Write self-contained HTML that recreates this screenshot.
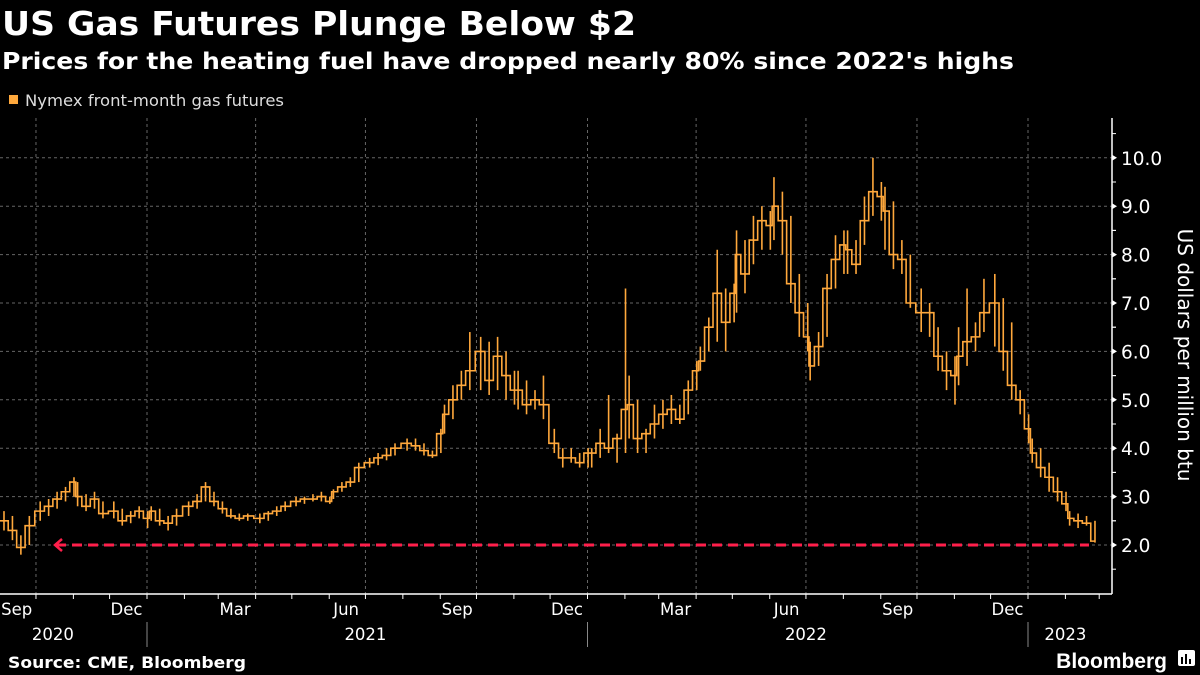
<!DOCTYPE html>
<html><head><meta charset="utf-8"><style>
html,body{margin:0;padding:0;background:#000;}
body{width:1200px;height:675px;overflow:hidden;font-family:"DejaVu Sans",sans-serif;color:#fff;position:relative}
</style></head><body>
<svg id="chart" width="1200" height="675" xmlns="http://www.w3.org/2000/svg" style="position:absolute;left:0;top:0">
<text x="2" y="35" font-size="33" font-weight="bold" fill="#fff" font-family="DejaVu Sans, sans-serif" textLength="634" lengthAdjust="spacingAndGlyphs">US Gas Futures Plunge Below $2</text>
<text x="2" y="69" font-size="23" font-weight="bold" fill="#fff" font-family="DejaVu Sans, sans-serif" textLength="1012" lengthAdjust="spacingAndGlyphs">Prices for the heating fuel have dropped nearly 80% since 2022's highs</text>
<g>
<rect x="9" y="95" width="9" height="9" fill="#ffa83c"/>
<text x="25" y="106" font-size="16" fill="#ddd" font-family="DejaVu Sans, sans-serif" textLength="259" lengthAdjust="spacingAndGlyphs">Nymex front-month gas futures</text>
</g>
<g id="grid"></g>
<g id="series"></g>
<g id="axes"></g>
<text transform="translate(1178,355) rotate(90)" text-anchor="middle" font-size="20" fill="#fff" font-family="DejaVu Sans, sans-serif">US dollars per million btu</text>
<text x="8" y="668" font-size="16" font-weight="bold" fill="#fff" font-family="DejaVu Sans, sans-serif" textLength="238" lengthAdjust="spacingAndGlyphs">Source: CME, Bloomberg</text>
<text x="1167" y="668" text-anchor="end" font-size="21" font-weight="bold" fill="#fff" font-family="Liberation Sans, sans-serif">Bloomberg</text>
<g>
<rect x="1178" y="650" width="17" height="16" rx="2" fill="#fff"/>
<rect x="1181" y="657" width="2" height="7" fill="#000"/><rect x="1185" y="654" width="2" height="10" fill="#000"/><rect x="1189" y="659" width="2" height="5" fill="#000"/>
</g>
</svg>
<script>
const months = ["2020-09","2020-10","2020-11","2020-12","2021-01","2021-02","2021-03","2021-04","2021-05","2021-06","2021-07","2021-08","2021-09","2021-10","2021-11","2021-12","2022-01","2022-02","2022-03","2022-04","2022-05","2022-06","2022-07","2022-08","2022-09","2022-10","2022-11","2022-12","2023-01","2023-02"];
const closes = [[2.5,2.3,1.95,2.4],[2.7,2.8,2.95,3.1,3.3],[3.0,2.8,2.95,2.65],[2.7,2.5,2.6,2.7,2.55],[2.7,2.5,2.45,2.6],[2.8,2.9,3.2,2.9],[2.75,2.6,2.55,2.6],[2.55,2.65,2.7,2.8],[2.9,2.95,2.95,3.0,2.9],[3.1,3.2,3.3,3.6],[3.7,3.8,3.85,4.0],[4.1,4.05,3.95,3.85,4.3],[4.7,5.0,5.3,5.6],[6.0,5.4,5.9,5.5,5.2],[5.2,4.9,5.0,4.9],[4.1,3.8,3.8,3.7,3.9],[3.9,4.1,4.0,4.2,4.8],[4.9,4.2,4.3,4.5],[4.7,4.8,4.6,5.2,5.6],[5.8,6.5,7.2,6.6,7.2],[8.0,7.6,8.3,8.7,8.6],[9.0,8.7,7.4,6.8,6.3],[5.7,6.1,7.3,7.9,8.2],[8.1,7.8,8.7,9.3,9.2],[8.9,8.0,7.9,7.0],[6.8,6.8,5.9,5.6,5.5],[5.9,6.2,6.3,6.8],[7.0,6.0,5.3,5.0,4.4],[3.9,3.6,3.4,3.1,2.85],[2.55,2.5,2.45,2.08]];
const highs = [[2.7,2.6,2.2,2.6],[2.9,2.95,3.1,3.2,3.4],[3.3,3.05,3.1,2.9],[2.9,2.75,2.7,2.8,2.7],[2.8,2.75,2.6,2.75],[2.9,3.05,3.3,3.1],[2.9,2.75,2.65,2.65],[2.65,2.7,2.8,2.9],[3.0,3.0,3.05,3.1,3.0],[3.15,3.3,3.4,3.7],[3.8,3.9,4.0,4.1],[4.2,4.2,4.1,3.95,4.4],[4.9,5.3,5.6,6.4],[6.3,6.2,6.3,6.0,5.6],[5.6,5.4,5.2,5.5],[4.4,4.0,4.0,3.9,4.0],[4.0,4.4,5.1,4.3,7.3],[5.5,5.0,4.4,4.9],[5.0,5.1,4.9,5.4,5.8],[6.1,6.7,8.1,7.3,7.4],[8.5,8.3,8.8,9.0,8.9],[9.6,9.3,8.8,7.6,7.0],[6.2,6.4,7.6,8.4,8.5],[8.5,8.3,9.2,10.0,9.5],[9.4,9.1,8.3,8.0],[7.3,7.0,6.5,6.0,5.9],[6.5,7.3,6.6,7.5],[7.6,7.1,6.6,5.2,4.7],[4.2,4.0,3.7,3.4,3.1],[2.7,2.65,2.6,2.5]];
const lows = [[2.3,2.1,1.8,2.0],[2.5,2.6,2.75,2.9,3.0],[2.8,2.7,2.75,2.55],[2.55,2.4,2.45,2.55,2.35],[2.5,2.4,2.3,2.4],[2.6,2.75,2.9,2.8],[2.65,2.55,2.5,2.5],[2.45,2.5,2.6,2.7],[2.8,2.85,2.9,2.9,2.85],[2.95,3.1,3.2,3.3],[3.6,3.65,3.75,3.85],[3.95,3.95,3.85,3.8,3.9],[4.3,4.6,5.0,5.2],[5.2,5.1,5.2,5.0,4.9],[4.8,4.7,4.8,4.6],[3.9,3.6,3.7,3.6,3.6],[3.6,3.8,3.9,3.7,3.9],[4.2,3.9,3.9,4.2],[4.4,4.5,4.5,4.7,5.2],[5.6,6.0,6.2,6.0,6.6],[6.8,7.2,7.8,8.1,8.1],[8.3,8.0,7.0,6.3,6.0],[5.4,5.7,6.3,7.3,7.6],[7.6,7.6,8.2,8.8,8.7],[8.1,7.7,7.6,6.9],[6.4,6.3,5.6,5.2,4.9],[5.3,5.7,6.0,6.4],[6.1,5.6,5.0,4.7,4.1],[3.7,3.4,3.1,2.9,2.7],[2.4,2.35,2.4,2.05]];
const yTicks = [2,3,4,5,6,7,8,9,10];
const yTickLabels = ["2.0","3.0","4.0","5.0","6.0","7.0","8.0","9.0","10.0"];
const monthLabels = ["Sep","Dec","Mar","Jun","Sep","Dec","Mar","Jun","Sep","Dec"];
const monthLabelDates = ["2020-09-15","2020-12-15","2021-03-15","2021-06-15","2021-09-15","2021-12-15","2022-03-15","2022-06-15","2022-09-15","2022-12-15"];
const yearLabels = ["2020","2021","2022","2023"];
const yearLabelDates = ["2020-10-15","2021-07-01","2022-07-01","2023-02-01"];
const targetLevel = 2.0;

const NS="http://www.w3.org/2000/svg";
const DAY=86400000, T0=Date.UTC(2021,0,1), PX=(1028-147)/730;
function xScale(d){return 147+(d-T0)/DAY*PX;}
function dt(s){const p=s.split("-").map(Number);return Date.UTC(p[0],p[1]-1,p[2]||1);}
function yScale(v){return 545-(v-2)*48.4;}
function mk(tag,attrs,parent){const e=document.createElementNS(NS,tag);for(const k in attrs)e.setAttribute(k,attrs[k]);parent.appendChild(e);return e;}
const grid=document.getElementById("grid"),series=document.getElementById("series"),axes=document.getElementById("axes");
const AX=1112, AB=594, TOP=118;
const FONT="DejaVu Sans, sans-serif";

yTicks.forEach((v,i)=>{
  const l=mk("line",{x1:0,x2:AX,y1:yScale(v),y2:yScale(v),stroke:"#666","stroke-width":1,"stroke-dasharray":"3,3"},grid);
  
  
});
for(let y=2020;y<=2023;y++){for(const m of [0,3,6,9]){const t=Date.UTC(y,m,1);const x=xScale(t);if(x<0||x>AX-5)continue;
  const l=mk("line",{x1:x,x2:x,y1:TOP,y2:AB,stroke:"#666","stroke-width":1,"stroke-dasharray":"3,3"},grid);
  
  
}}

let pts=[];
months.forEach((m,i)=>{const ms=dt(m);closes[i].forEach((c,k)=>{const t=ms+(3.5+7*k)*DAY;pts.push({x:xScale(t),c:c,h:highs[i][k],l:lows[i][k]});});});
let d="";
pts.forEach((p,i)=>{
  const bar=mk("line",{x1:p.x,x2:p.x,y1:yScale(p.h),y2:yScale(p.l),stroke:"#ffa83c","stroke-width":1.6},series);
  
  
  const x0=i===0?0:(pts[i-1].x+p.x)/2;
  d+=(i===0?"M":"L")+x0+","+yScale(i===0?p.c:pts[i-1].c)+" L"+x0+","+yScale(p.c)+" L"+p.x+","+yScale(p.c)+" ";
});
const line=mk("path",{d:d,fill:"none",stroke:"#ffa83c","stroke-width":1.6},series);



const ty=yScale(targetLevel), lastX=pts[pts.length-1].x;
const tl=mk("line",{x1:56,x2:lastX-6,y1:ty,y2:ty,stroke:"#ff1f4b","stroke-width":3,"stroke-dasharray":"10,6"},series);


const ar=mk("path",{d:`M62,${ty-6} L55,${ty} L62,${ty+6}`,fill:"none",stroke:"#ff1f4b","stroke-width":2.5},series);



const ya=mk("line",{x1:AX,x2:AX,y1:TOP,y2:AB,stroke:"#fff","stroke-width":1.5},axes);


yTicks.forEach((v,i)=>{
  const y=yScale(v);
  const tri=mk("path",{d:`M${AX},${y-3} L${AX+5},${y} L${AX},${y+3}Z`,fill:"#fff"},axes);
  
  
  const t=mk("text",{x:AX+9,y:y+7,"font-size":18.5,fill:"#fff","font-family":FONT},axes);
  t.textContent=yTickLabels[i];
  
  
  [v-0.5,v+0.5].forEach(h=>{const yy=yScale(h);if(yy<TOP||yy>AB)return;
    const m=mk("line",{x1:AX,x2:AX+4,y1:yy,y2:yy,stroke:"#fff","stroke-width":1},axes);
    
    });
});
const xa=mk("line",{x1:0,x2:AX,y1:AB,y2:AB,stroke:"#fff","stroke-width":1.5},axes);


for(let y=2020;y<=2023;y++){for(let m=0;m<12;m++){const x=xScale(Date.UTC(y,m,1));if(x<2||x>AX-2)continue;
  const tk=mk("line",{x1:x,x2:x,y1:AB,y2:AB+5,stroke:"#fff","stroke-width":1},axes);
  
  }}
monthLabels.forEach((s,i)=>{
  const t=mk("text",{x:xScale(dt(monthLabelDates[i])),y:615,"text-anchor":"middle","font-size":16.5,fill:"#fff","font-family":FONT},axes);
  t.textContent=s;
  
  
});
yearLabels.forEach((s,i)=>{
  const t=mk("text",{x:xScale(dt(yearLabelDates[i])),y:640,"text-anchor":"middle","font-size":16.5,fill:"#fff","font-family":FONT},axes);
  t.textContent=s;
  
  
});
[2021,2022,2023].forEach(y=>{const x=xScale(Date.UTC(y,0,1));
  const s=mk("line",{x1:x,x2:x,y1:622,y2:647,stroke:"#888","stroke-width":1},axes);
  
  });
</script>
</body></html>
